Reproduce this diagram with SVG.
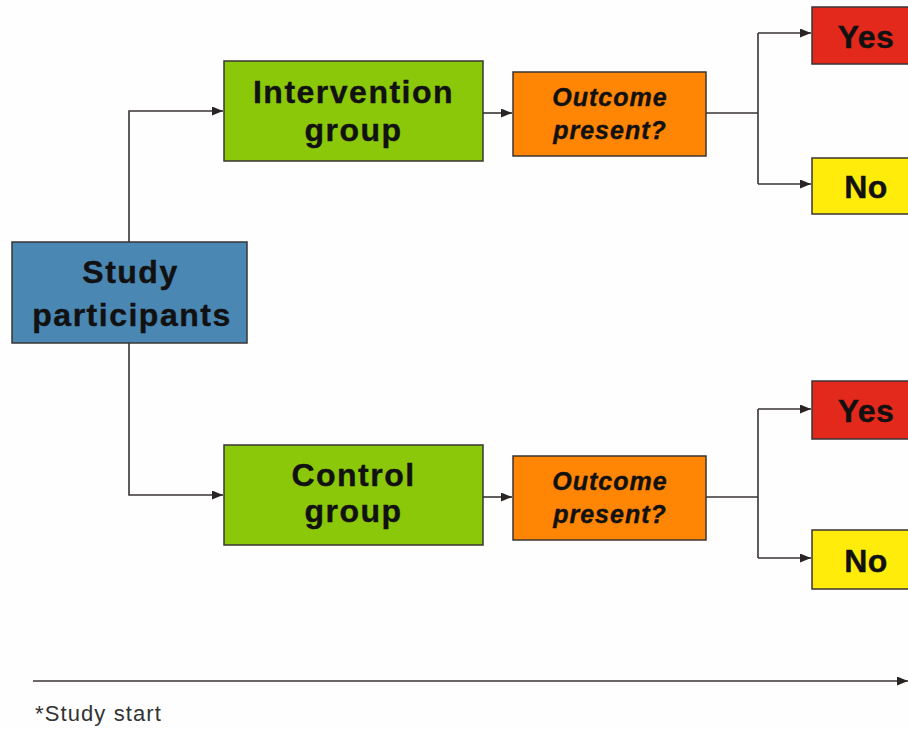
<svg xmlns="http://www.w3.org/2000/svg" width="908" height="729" viewBox="0 0 908 729">
<defs>
<marker id="ah" markerWidth="11" markerHeight="9" refX="11" refY="4.5" orient="auto" markerUnits="userSpaceOnUse">
<path d="M0,0 L11,4.5 L0,9 Z" fill="#2a2424"/>
</marker>
<style>
.box{stroke:#3a3434;stroke-width:1.5}
.t{font-family:"Liberation Sans",Arial,sans-serif;font-weight:bold;fill:#111;text-anchor:middle;stroke:#111;stroke-width:0.4}
.big{font-size:32px;letter-spacing:1.5px}
.oc{font-size:25px;font-style:italic;letter-spacing:1px}
.yn{font-size:32px;letter-spacing:0.5px}
.conn{fill:none;stroke:#3a3434;stroke-width:1.6}
</style>
</defs>
<rect width="908" height="729" fill="#fdfefd"/>
<g id="connectors">
<path class="conn" d="M129,242 V111 H223" marker-end="url(#ah)"/>
<path class="conn" d="M129,343 V495 H223" marker-end="url(#ah)"/>
<path class="conn" d="M483,113 H512" marker-end="url(#ah)"/>
<path class="conn" d="M483,497 H512" marker-end="url(#ah)"/>
<path class="conn" d="M706,113 H758"/>
<path class="conn" d="M758,33 V184"/>
<path class="conn" d="M758,33 H811" marker-end="url(#ah)"/>
<path class="conn" d="M758,184 H811" marker-end="url(#ah)"/>
<path class="conn" d="M706,497 H758"/>
<path class="conn" d="M758,409 V558"/>
<path class="conn" d="M758,409 H811" marker-end="url(#ah)"/>
<path class="conn" d="M758,558 H811" marker-end="url(#ah)"/>
<path class="conn" d="M33,681 H908" marker-end="url(#ah)"/>
</g>
<g id="study">
<rect class="box" x="12" y="242" width="235" height="101" fill="#4a87b3"/>
<text class="t big" x="130.5" y="283">Study</text>
<text class="t big" x="132" y="326">participants</text>
</g>
<g id="intervention">
<rect class="box" x="224" y="61" width="259" height="100" fill="#8cc80a"/>
<text class="t big" x="353.5" y="103">Intervention</text>
<text class="t big" x="353.5" y="141">group</text>
</g>
<g id="control">
<rect class="box" x="224" y="445" width="259" height="100" fill="#8cc80a"/>
<text class="t big" x="353.5" y="486">Control</text>
<text class="t big" x="353.5" y="522">group</text>
</g>
<g id="outcome1">
<rect class="box" x="513" y="72" width="193" height="84" fill="#ff8505"/>
<text class="t oc" x="610" y="106">Outcome</text>
<text class="t oc" x="610" y="139">present?</text>
</g>
<g id="outcome2">
<rect class="box" x="513" y="456" width="193" height="84" fill="#ff8505"/>
<text class="t oc" x="610" y="490">Outcome</text>
<text class="t oc" x="610" y="523">present?</text>
</g>
<g id="yes1">
<rect class="box" x="812" y="7" width="110" height="57" fill="#e3281c"/>
<text class="t yn" x="866" y="48">Yes</text>
</g>
<g id="no1">
<rect class="box" x="812" y="158" width="110" height="56" fill="#ffec0a"/>
<text class="t yn" x="866" y="198">No</text>
</g>
<g id="yes2">
<rect class="box" x="812" y="381" width="110" height="58" fill="#e3281c"/>
<text class="t yn" x="866" y="422">Yes</text>
</g>
<g id="no2">
<rect class="box" x="812" y="530" width="110" height="59" fill="#ffec0a"/>
<text class="t yn" x="866" y="572">No</text>
</g>
<text x="35" y="721" font-family="'Liberation Sans',Arial,sans-serif" font-size="22" letter-spacing="1.1" fill="#333">*Study start</text>
</svg>
